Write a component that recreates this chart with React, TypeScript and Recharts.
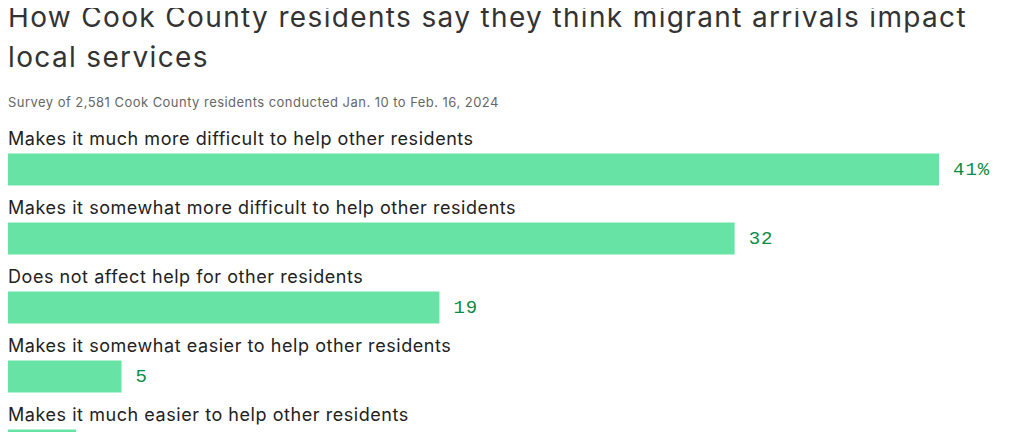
import { Bar, BarChart, LabelList, XAxis, YAxis } from "recharts";

const categories = [
  "Makes it much more difficult to help other residents",
  "Makes it somewhat more difficult to help other residents",
  "Does not affect help for other residents",
  "Makes it somewhat easier to help other residents",
  "Makes it much easier to help other residents",
];
const shares = [41, 32, 19, 5, 3];

const data = categories.map((name, i) => ({ name, value: shares[i] }));

const SANS = "Inter, 'Noto Sans', sans-serif";
const MONO = "'Liberation Mono', 'DejaVu Sans Mono', monospace";

const CategoryLabel = (props: any) => {
  const { x, y, index } = props;
  return (
    <text
      x={x}
      y={y - 9}
      fill="#222"
      fontSize={18}
      letterSpacing={0.55}
      fontFamily={SANS}
    >
      {categories[index]}
    </text>
  );
};

const ValueLabel = (props: any) => {
  const { x, y, width, height, index } = props;
  const v = shares[index];
  return (
    <text
      x={x + width + 14}
      y={y + height / 2}
      dominantBaseline="central"
      fill="#0b8c45"
      fontSize={19}
      letterSpacing={1}
      fontFamily={MONO}
    >
      {index === 0 ? `${v}%` : v}
    </text>
  );
};

export default function App() {
  return (
    <div style={{ position: "relative", width: 1003, height: 480 }}>
      <svg
        width={1011}
        height={120}
        style={{ position: "absolute", left: -8, top: -8 }}
      >
        <text x={8} y={27} fill="#333" fontSize={28} letterSpacing={1.35} fontFamily={SANS}>
          How Cook County residents say they think migrant arrivals impact
        </text>
        <text x={8} y={67} fill="#333" fontSize={28} letterSpacing={1.35} fontFamily={SANS}>
          local services
        </text>
        <text x={8} y={107} fill="#666" fontSize={13} letterSpacing={0.46} fontFamily={SANS}>
          Survey of 2,581 Cook County residents conducted Jan. 10 to Feb. 16, 2024
        </text>
      </svg>
      <BarChart
        width={1003}
        height={480}
        data={data}
        layout="vertical"
        margin={{ top: 126.5, right: 72, bottom: 8.5, left: 0 }}
      >
        <XAxis type="number" domain={[0, 41]} hide />
        <YAxis type="category" dataKey="name" hide />
        <Bar dataKey="value" fill="#67e3a6" barSize={32} isAnimationActive={false}>
          <LabelList dataKey="name" content={CategoryLabel} />
          <LabelList dataKey="value" content={ValueLabel} />
        </Bar>
      </BarChart>
    </div>
  );
}
